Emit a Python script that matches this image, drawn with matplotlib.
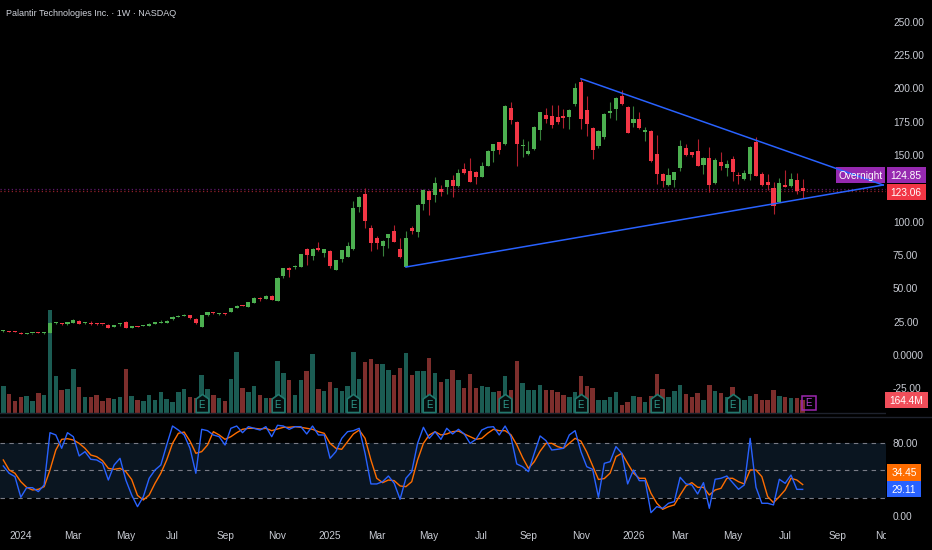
"""
weekly candles + volume + stochastic, tradingview style
"""

import numpy as np
import pandas as pd
import matplotlib
matplotlib.use("Agg")
import matplotlib.pyplot as plt
import matplotlib.transforms as mtransforms
from matplotlib import font_manager as fm
from matplotlib.patches import Rectangle
from matplotlib.lines import Line2D
from matplotlib.path import Path

# weekly bars, first bar = week of 2023-12-11
opens = [17.7, 18.1, 17.5, 16.8, 16.0, 16.2, 16.9, 16.4, 16.7, 23.9,
         23.6, 23.0, 24.2, 25.8, 24.0, 24.2, 23.4, 23.4, 22.7, 21.0,
         23.2, 24.4, 20.4, 21.8, 21.6, 22.1, 23.1, 24.0, 24.2, 26.7,
         28.8, 29.4, 30.0, 27.2, 21.2, 29.8, 32.2, 30.9, 31.5, 32.4,
         35.6, 37.4, 36.3, 39.3, 43.0, 42.1, 44.4, 40.8, 59.5, 64.9,
         65.7, 66.3, 79.6, 74.3, 80.4, 76.3, 78.2, 63.8, 72.3, 73.6,
         79.3, 111.3, 120.6, 95.4, 88.1, 81.5, 88.0, 92.9, 79.4, 66.3,
         95.4, 92.3, 113.1, 123.1, 120.1, 124.2, 126.3, 131.1, 126.6, 139.6,
         138.1, 137.4, 133.8, 142.1, 153.3, 159.4, 158.1, 185.6, 174.6, 156.5,
         150.6, 154.6, 168.8, 180.1, 179.1, 178.6, 178.4, 178.8, 188.3, 205.0,
         183.6, 170.4, 156.7, 163.8, 181.6, 184.6, 194.4, 186.1, 174.3, 177.1,
         167.1, 168.0, 150.5, 136.0, 127.6, 131.3, 140.1, 155.2, 152.0, 152.7,
         142.6, 147.9, 129.3, 144.4, 140.6, 147.1, 135.0, 131.8, 135.6, 159.6,
         135.4, 129.4, 125.4, 115.1, 127.4, 126.8, 131.4, 125.6]
highs = [18.6, 18.3, 17.7, 16.9, 16.5, 16.6, 17.5, 17.0, 25.0, 24.8,
         23.8, 24.7, 27.3, 26.2, 24.9, 25.3, 23.7, 23.6, 22.9, 22.8,
         23.9, 25.2, 21.9, 22.0, 22.4, 23.8, 24.6, 26.2, 26.0, 28.9,
         29.8, 30.8, 30.3, 27.5, 30.0, 32.3, 32.6, 31.8, 31.8, 35.6,
         37.3, 37.7, 39.8, 43.4, 43.3, 44.7, 44.8, 58.5, 65.5, 66.0,
         67.5, 76.0, 80.5, 80.0, 84.5, 79.5, 78.8, 71.6, 78.8, 84.5,
         115.7, 119.0, 125.2, 97.5, 89.0, 86.0, 90.8, 97.5, 88.0, 93.0,
         97.0, 113.0, 124.2, 123.8, 133.2, 127.5, 131.6, 135.0, 139.2, 144.2,
         147.5, 138.0, 144.5, 153.5, 158.6, 159.9, 187.3, 189.5, 175.5, 161.7,
         160.7, 171.5, 182.5, 185.5, 187.5, 187.5, 184.5, 184.8, 203.7, 207.2,
         194.5, 171.0, 168.5, 181.6, 189.5, 193.5, 198.5, 186.5, 186.7, 182.2,
         171.2, 168.5, 165.0, 136.5, 140.5, 137.4, 161.0, 158.0, 152.5, 161.7,
         148.5, 156.2, 147.5, 152.0, 146.2, 149.2, 137.0, 138.5, 157.0, 163.5,
         137.5, 135.7, 129.5, 132.5, 138.7, 136.5, 136.2, 132.0]
lows = [17.3, 17.2, 16.9, 15.7, 15.8, 16.0, 16.2, 16.1, 16.4, 23.6,
        22.8, 22.8, 23.9, 23.1, 23.6, 22.8, 22.4, 22.6, 20.3, 20.8,
        21.9, 20.2, 20.1, 21.1, 21.4, 21.9, 22.9, 23.8, 24.0, 26.4,
        28.5, 29.2, 26.9, 23.4, 21.0, 29.5, 31.0, 30.3, 30.1, 32.0,
        35.0, 36.4, 36.0, 39.0, 40.5, 41.7, 40.9, 40.5, 57.5, 58.7,
        64.5, 66.0, 67.5, 71.5, 78.3, 73.5, 65.5, 63.5, 70.0, 73.2,
        78.8, 107.0, 95.5, 78.2, 79.2, 74.2, 80.5, 84.6, 72.8, 66.0,
        90.5, 88.8, 108.8, 105.0, 114.7, 119.5, 120.5, 118.7, 126.0, 136.0,
        129.5, 128.2, 133.2, 141.5, 145.0, 150.7, 157.5, 173.2, 142.0, 148.7,
        150.0, 154.0, 161.0, 174.2, 170.5, 173.5, 170.5, 169.2, 186.5, 169.2,
        164.5, 147.2, 155.0, 162.0, 177.5, 176.2, 187.5, 166.2, 171.2, 169.5,
        160.7, 144.8, 128.2, 126.0, 127.0, 126.2, 138.0, 149.5, 148.5, 141.5,
        136.0, 122.5, 128.5, 138.5, 134.0, 130.5, 128.5, 131.0, 131.2, 134.0,
        127.0, 123.7, 106.0, 114.5, 125.8, 126.3, 120.5, 117.5]
closes = [18.1, 17.4, 17.1, 16.0, 16.3, 16.4, 16.4, 16.8, 23.8, 24.4,
          23.0, 24.4, 26.5, 23.4, 24.5, 23.0, 23.0, 22.9, 20.5, 22.6,
          23.6, 20.4, 21.6, 21.3, 22.1, 23.6, 24.4, 24.4, 25.8, 28.6,
          29.3, 29.8, 27.5, 24.2, 29.7, 31.9, 31.4, 31.2, 30.6, 35.2,
          36.9, 36.8, 39.4, 43.0, 41.9, 44.4, 41.3, 58.0, 65.1, 63.7,
          67.0, 75.6, 75.3, 79.6, 78.8, 79.2, 66.4, 71.1, 78.4, 81.6,
          110.4, 118.6, 100.8, 84.3, 84.2, 85.6, 90.4, 85.1, 73.3, 88.1,
          93.1, 112.4, 123.6, 116.3, 129.1, 122.6, 131.1, 127.1, 136.6, 136.6,
          130.1, 133.8, 141.6, 152.9, 158.1, 153.8, 186.6, 176.6, 158.3, 157.0,
          152.9, 170.9, 181.9, 176.8, 172.6, 174.8, 178.1, 184.1, 199.9, 177.3,
          173.6, 154.1, 167.9, 181.1, 182.9, 192.9, 188.1, 166.8, 177.1, 170.1,
          169.1, 145.6, 135.6, 130.6, 134.9, 136.9, 156.6, 150.1, 150.2, 142.1,
          147.9, 127.6, 146.1, 141.8, 143.4, 137.3, 134.1, 136.4, 156.1, 134.6,
          127.6, 127.6, 112.1, 129.1, 126.3, 131.9, 123.1, 123.06]
# volume in millions of shares
volumes = [331, 239, 153, 195, 207, 145, 248, 223, 1273, 463,
           285, 301, 549, 322, 198, 195, 223, 153, 190, 174,
           195, 546, 207, 157, 153, 223, 165, 257, 177, 136,
           260, 294, 198, 182, 471, 298, 219, 182, 153, 425,
           756, 314, 264, 339, 227, 190, 190, 641, 496, 413,
           223, 413, 525, 732, 301, 269, 388, 314, 277, 339,
           760, 422, 636, 673, 604, 611, 537, 475, 558, 748,
           475, 525, 521, 678, 496, 381, 425, 533, 413, 314,
           487, 306, 335, 322, 257, 269, 463, 289, 649, 376,
           285, 285, 347, 285, 289, 264, 227, 202, 260, 459,
           339, 314, 157, 165, 198, 257, 103, 140, 211, 198,
           140, 211, 484, 298, 198, 269, 343, 236, 195, 248,
           161, 343, 277, 248, 195, 322, 157, 165, 215, 236,
           161, 161, 285, 215, 195, 190, 186, 164.4]
# stochastic %K and %D
stoch_k = [54.8, 46.8, 43.1, 20.5, 31.0, 31.0, 26.7, 34.0, 91.3, 88.8,
           74.2, 91.3, 86.9, 65.8, 70.5, 62.1, 61.4, 57.7, 39.4, 55.9,
           63.2, 39.4, 23.0, 10.2, 21.2, 41.3, 50.4, 55.9, 77.8, 98.6,
           94.2, 88.8, 74.2, 46.8, 95.0, 93.5, 88.8, 86.9, 77.8, 96.1,
           98.6, 91.3, 97.9, 96.1, 94.2, 97.9, 86.9, 99.4, 98.6, 95.0,
           97.9, 97.9, 89.9, 98.6, 88.8, 88.8, 63.2, 70.5, 85.1, 92.4,
           93.5, 96.1, 68.7, 35.1, 35.1, 37.6, 43.8, 35.8, 18.3, 41.3,
           48.6, 79.6, 97.2, 85.1, 92.4, 84.0, 96.1, 89.9, 95.0, 89.9,
           79.6, 84.0, 94.2, 97.2, 97.9, 88.8, 98.6, 86.9, 57.0, 54.0,
           48.6, 68.7, 87.7, 82.6, 72.3, 73.1, 74.2, 88.8, 93.5, 70.5,
           54.0, 51.1, 20.5, 57.7, 59.5, 76.0, 68.7, 35.1, 50.4, 38.7,
           38.7, 3.6, 10.2, 8.4, 13.9, 15.7, 42.4, 35.1, 34.0, 24.1,
           36.5, 8.4, 40.2, 41.3, 43.8, 36.5, 29.2, 34.0, 85.1, 31.4,
           13.9, 13.9, 12.1, 40.2, 35.8, 44.9, 29.2, 29.11]
stoch_d = [61.4, 50.4, 46.8, 37.6, 31.4, 28.5, 29.2, 32.1, 50.4, 72.3,
           84.0, 84.7, 83.3, 79.6, 74.2, 66.8, 65.0, 60.6, 52.2, 51.1,
           52.2, 48.6, 40.0, 22.5, 17.5, 23.0, 35.8, 46.8, 61.4, 79.6,
           90.6, 92.0, 82.0, 68.7, 70.5, 77.8, 92.4, 88.8, 84.0, 86.9,
           91.3, 95.0, 96.1, 96.1, 95.3, 96.1, 93.5, 95.3, 97.2, 97.2,
           97.9, 97.2, 96.1, 95.0, 92.4, 90.6, 79.6, 74.2, 73.1, 81.5,
           89.9, 94.2, 85.1, 61.4, 41.3, 36.5, 39.4, 38.7, 32.9, 32.1,
           37.6, 61.4, 79.6, 88.8, 92.4, 88.8, 89.9, 92.4, 93.1, 89.9,
           87.0, 84.0, 85.1, 90.6, 95.0, 93.5, 93.5, 89.0, 78.0, 64.0,
           52.2, 59.5, 71.0, 79.6, 79.6, 76.0, 74.2, 79.6, 85.1, 82.0,
           70.0, 55.0, 40.0, 41.0, 47.0, 65.0, 68.7, 57.7, 47.0, 41.3,
           41.3, 24.8, 14.0, 7.3, 10.2, 12.1, 23.0, 33.0, 36.5, 31.4,
           31.4, 23.0, 28.5, 30.3, 41.3, 41.3, 37.6, 35.1, 50.4, 50.4,
           43.1, 21.2, 14.6, 21.2, 28.5, 41.3, 39.4, 34.45]

earnings_bars = [34, 47, 60, 73, 86, 99, 112, 125]
next_earnings_bar = 138
# trendlines as (bar, price) pairs
trend_upper = [(99, 207.2), (150.8, 127.5)]
trend_lower = [(69, 66.0), (150.8, 127.5)]
last_price = 123.06
overnight_price = 124.85

price_ticks = [-25, 0, 25, 50, 75, 100, 150, 175, 200, 225, 250]
price_tick_labels = ["-25.00", "0.0000", "25.00", "50.00", "75.00", "100.00",
                     "150.00", "175.00", "200.00", "225.00", "250.00"]
stoch_ticks = [0, 80]
stoch_tick_labels = ["0.00", "80.00"]

W, H = 932, 550
BG = "#000000"
UP, DOWN = "#4caf50", "#f23645"
UP_WICK, DOWN_WICK = "#37803b", "#b2202e"
VOL_UP, VOL_DOWN = "#1b5c53", "#7d2e2c"
TXT = "#c8cbd3"

names = {f.name for f in fm.fontManager.ttflist}
if "Liberation Sans Narrow" in names:
    FONT, FS, TITLE_FS = "Liberation Sans Narrow", 8.3, 7.6
else:
    FONT, FS, TITLE_FS = "Liberation Sans", 7.3, 6.5
plt.rcParams["font.family"] = [FONT, "DejaVu Sans"]


def px_box(x0, y0, x1, y1):
    """pixel box (top-left origin) -> figure fraction rect"""
    return [x0 / W, 1 - y1 / H, (x1 - x0) / W, (y1 - y0) / H]


def tag(fig, x0, y0, x1, y1, text, fc, tc="white"):
    fig.add_artist(Rectangle((x0 / W, 1 - y1 / H), (x1 - x0) / W, (y1 - y0) / H,
                             transform=fig.transFigure, fc=fc, lw=0))
    fig.text((x0 + x1) / 2 / W, 1 - (y0 + y1) / 2 / H, text, ha="center",
             va="center_baseline", color=tc, fontsize=FS)


def viz():
    n = len(closes)
    x = np.arange(n)
    o, h, l, c = map(np.array, (opens, highs, lows, closes))
    up = c >= o
    xlim = (-0.566, 151.28)

    fig = plt.figure(figsize=(W / 100, H / 100), dpi=100, facecolor=BG)

    # main pane with volume underneath
    ax = fig.add_axes(px_box(0, 0, 886, 415))
    axv = ax.twinx()
    ax.set_zorder(2)
    axv.set_zorder(1)
    ax.patch.set_visible(False)
    axv.patch.set_visible(False)

    axv.bar(x, volumes, width=0.76, color=np.where(up, VOL_UP, VOL_DOWN), linewidth=0)
    axv.axhline(0, color="#1e222d", lw=1)
    axv.set_ylim(-24.8, 5121)
    axv.set_xlim(*xlim)
    axv.axis("off")

    ax.vlines(x, l, h, colors=np.where(up, UP_WICK, DOWN_WICK), lw=0.8, zorder=2)
    body = np.maximum(np.abs(c - o), 0.8)
    ax.bar(x, body, bottom=np.minimum(o, c), width=0.7,
           color=np.where(up, UP, DOWN), linewidth=0, zorder=3)

    for pts in (trend_upper, trend_lower):
        ax.plot([p[0] for p in pts], [p[1] for p in pts], color="#2962ff", lw=1.1, zorder=4)

    ax.axhline(overnight_price, color="#9c27b0", ls=(0, (1, 2)), lw=0.9, alpha=0.6, zorder=1)
    ax.axhline(last_price, color="#f23645", ls=(0, (1, 2)), lw=0.9, alpha=0.6, zorder=1)

    # earnings badges
    house = Path([(-0.7, -1), (0.7, -1), (0.7, 0.5), (0, 1), (-0.7, 0.5), (-0.7, -1)],
                 [Path.MOVETO] + [Path.LINETO] * 4 + [Path.CLOSEPOLY])
    trans = mtransforms.blended_transform_factory(ax.transData, ax.transAxes)
    for b in earnings_bars:
        ax.plot(b, 0.029, marker=house, ms=13, mfc="#050d0d", mec="#22786d", mew=1.2,
                transform=trans, zorder=5, clip_on=False)
        ax.text(b, 0.024, "E", color="#2f9a8c", fontsize=7, ha="center", va="center",
                transform=trans, zorder=6)
    ax.plot(next_earnings_bar, 0.029, marker="s", ms=10, mfc="none", mec="#9c27b0", mew=1.1,
            transform=trans, zorder=5, clip_on=False)
    ax.text(next_earnings_bar, 0.028, "E", color="#b040d0", fontsize=7, ha="center",
            va="center", transform=trans, zorder=6)

    ax.set_xlim(*xlim)
    ax.set_ylim(-45, 266.25)
    ax.yaxis.tick_right()
    ax.set_yticks(price_ticks)
    ax.set_yticklabels(price_tick_labels)
    ax.tick_params(axis="y", length=0, pad=5, labelsize=FS, labelcolor=TXT)
    ax.set_xticks([])
    for s in ax.spines.values():
        s.set_visible(False)

    # stochastic pane
    axs = fig.add_axes(px_box(0, 418, 886, 528))
    axs.set_facecolor(BG)
    axs.axhspan(20, 80, color="#0a1520", lw=0, zorder=0)
    for lvl in (20, 50, 80):
        axs.axhline(lvl, color="#787b86", lw=0.8, dashes=(4, 4), zorder=1)
    axs.plot(x, stoch_k, color="#2962ff", lw=1.0, zorder=3)
    axs.plot(x, stoch_d, color="#ff6d00", lw=1.0, zorder=2)
    axs.set_xlim(*xlim)
    axs.set_ylim(-13.2, 107.4)
    axs.yaxis.tick_right()
    axs.set_yticks(stoch_ticks)
    axs.set_yticklabels(stoch_tick_labels)
    axs.tick_params(axis="y", length=0, pad=5, labelsize=FS, labelcolor=TXT)
    axs.set_xticks([])
    for s in axs.spines.values():
        s.set_visible(False)

    # date labels
    axd = fig.add_axes(px_box(0, 528, 886, 550))
    axd.set_xlim(*xlim)
    axd.set_ylim(0, 1)
    axd.axis("off")
    weeks = pd.date_range("2023-12-11", periods=160, freq="W-MON")
    for m in pd.date_range("2024-01-01", "2026-11-01", freq="2MS"):
        pos = int(np.searchsorted(weeks, m))
        lab = str(m.year) if m.month == 1 else m.strftime("%b")
        axd.text(pos, 0.64, lab, ha="center", va="center", color=TXT, fontsize=FS,
                 clip_on=True)

    fig.add_artist(Line2D([0, 1], [1 - 416.5 / H] * 2, transform=fig.transFigure,
                          color="#1e222d", lw=1))

    fig.text(6 / W, 1 - 14 / H, "Palantir Technologies Inc. \u00b7 1W \u00b7 NASDAQ",
             ha="left", va="center", color="#d1d4dc", fontsize=TITLE_FS)

    tag(fig, 836, 167, 885, 183, "Overnight", "#9629b0")
    tag(fig, 886.5, 167, 926, 183, "124.85", "#9629b0")
    tag(fig, 886.5, 183.5, 926, 200, "123.06", "#f23645")
    tag(fig, 885, 392, 928, 408, "164.4M", "#f04e5a")
    tag(fig, 887, 464, 921, 481, "34.45", "#ff6d00")
    tag(fig, 887, 481, 921, 497, "29.11", "#2962ff")

    fig.savefig("out.png", dpi=100, facecolor=BG)


if __name__ == "__main__":
    viz()
